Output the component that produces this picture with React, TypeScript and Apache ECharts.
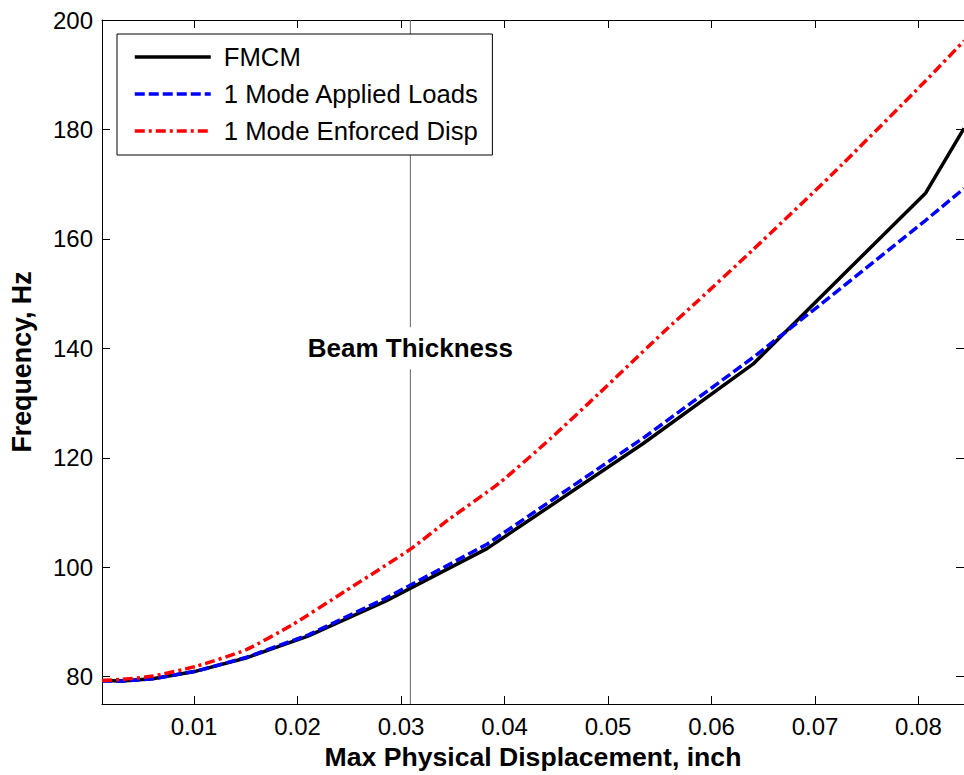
import React, { useEffect, useRef } from "react";
import * as echarts from "echarts";

const xTicks = [0.01, 0.02, 0.03, 0.04, 0.05, 0.06, 0.07, 0.08];
const yTicks = [80, 100, 120, 140, 160, 180, 200];

const fmcm: [number, number][] = [
  [0.0011, 79.3], [0.003, 79.2], [0.006, 79.6], [0.0102, 81.0], [0.015, 83.4],
  [0.021, 87.4], [0.0285, 93.8], [0.0383, 103.4], [0.0534, 122.6], [0.064, 137.1],
  [0.0807, 168.4], [0.0844, 180.2],
];
const appliedLoads: [number, number][] = [
  [0.0011, 79.2], [0.003, 79.2], [0.006, 79.6], [0.0102, 81.0], [0.015, 83.5],
  [0.021, 87.6], [0.0285, 94.3], [0.0383, 104.2], [0.0534, 123.6], [0.064, 138.3],
  [0.071, 148.7], [0.0807, 163.4], [0.0844, 169.2],
];
const enforcedDisp: [number, number][] = [
  [0.0011, 79.3], [0.003, 79.5], [0.006, 80.1], [0.0102, 81.9], [0.015, 84.9],
  [0.0195, 89.5], [0.0245, 95.5], [0.0309, 103.3], [0.0346, 108.7], [0.0395, 115.4],
  [0.0445, 123.6], [0.0491, 131.7], [0.0555, 143.2], [0.0587, 148.7], [0.064, 158.0],
  [0.0716, 171.7], [0.0807, 188.9], [0.0844, 196.2],
];
const beamThickness = 0.0309;
const beamLine: [number, number][] = [[beamThickness, 75], [beamThickness, 200]];
const beamLabelY = 140;

const FONT = "'Liberation Sans', Arial, Helvetica, sans-serif";

export default function App() {
  const ref = useRef<HTMLDivElement>(null);
  useEffect(() => {
    if (!ref.current) return;
    const chart = echarts.init(ref.current, null, { renderer: "svg" });
    const xMin = 0.0011;
    const xMax = 0.0844;
    const yMin = 75;
    const yMax = 200;
    const tickCommon = { inside: true, length: 8, lineStyle: { color: "#000", width: 1 } };
    chart.setOption({
      animation: false,
      backgroundColor: "#fff",
      textStyle: { fontFamily: FONT },
      grid: { left: 102, right: -1, top: 20, bottom: 71, containLabel: false },
      legend: {
        orient: "vertical",
        left: 117,
        top: 34,
        padding: [10, 13, 11, 16],
        itemGap: 11,
        itemWidth: 76,
        itemHeight: 14,
        borderColor: "#000",
        borderWidth: 1,
        backgroundColor: "#fff",
        itemStyle: { opacity: 0 },
        lineStyle: { width: 3.5 },
        textStyle: { fontSize: 25.7, color: "#000", fontFamily: FONT, padding: [0, 0, 0, 8] },
        data: ["FMCM", "1 Mode Applied Loads", "1 Mode Enforced Disp"],
      },
      xAxis: [
        {
          type: "value",
          position: "bottom",
          min: xMin,
          max: xMax,
          name: "Max Physical Displacement, inch",
          nameLocation: "middle",
          nameGap: 39,
          nameTextStyle: { fontSize: 26.6, fontWeight: "bold", color: "#000", fontFamily: FONT },
          axisLine: { show: true, lineStyle: { color: "#000", width: 1 } },
          axisTick: { ...tickCommon, customValues: xTicks },
          axisLabel: {
            customValues: xTicks,
            fontSize: 24,
            color: "#000",
            margin: 10,
            fontFamily: FONT,
            formatter: (v: number) => String(+v.toFixed(2)),
          },
          splitLine: { show: false },
        },
        {
          type: "value",
          position: "top",
          min: xMin,
          max: xMax,
          axisLine: { show: true, lineStyle: { color: "#000", width: 1 } },
          axisTick: { ...tickCommon, customValues: xTicks },
          axisLabel: { show: false, customValues: xTicks },
          splitLine: { show: false },
        },
      ],
      yAxis: [
        {
          type: "value",
          position: "left",
          min: yMin,
          max: yMax,
          name: "Frequency, Hz",
          nameLocation: "middle",
          nameGap: 67,
          nameTextStyle: { fontSize: 26.8, fontWeight: "bold", color: "#000", fontFamily: FONT },
          axisLine: { show: true, lineStyle: { color: "#000", width: 1 } },
          axisTick: { ...tickCommon, customValues: yTicks },
          axisLabel: { customValues: yTicks, fontSize: 24, color: "#000", margin: 9, fontFamily: FONT },
          splitLine: { show: false },
        },
        {
          type: "value",
          position: "right",
          min: yMin,
          max: yMax,
          axisLine: { show: true, lineStyle: { color: "#000", width: 1 } },
          axisTick: { ...tickCommon, customValues: yTicks },
          axisLabel: { show: false, customValues: yTicks },
          splitLine: { show: false },
        },
      ],
      series: [
        {
          name: "beam",
          type: "line",
          data: beamLine,
          symbol: "none",
          showSymbol: false,
          silent: true,
          z: 1,
          lineStyle: { color: "#666", width: 1, type: "solid" },
        },
        {
          name: "FMCM",
          type: "line",
          data: fmcm,
          symbol: "none",
          showSymbol: false,
          z: 3,
          lineStyle: { color: "#000", width: 3.5, type: "solid" },
          itemStyle: { color: "#000" },
        },
        {
          name: "1 Mode Applied Loads",
          type: "line",
          data: appliedLoads,
          symbol: "none",
          showSymbol: false,
          z: 4,
          lineStyle: { color: "#0000ff", width: 3.5, type: [10, 4] },
          itemStyle: { color: "#0000ff" },
        },
        {
          name: "1 Mode Enforced Disp",
          type: "line",
          data: enforcedDisp,
          symbol: "none",
          showSymbol: false,
          smooth: 0.2,
          z: 5,
          lineStyle: { color: "#ff0000", width: 3.5, type: [10, 4, 3, 4] },
          itemStyle: { color: "#ff0000" },
        },
      ],
    });
    const p = chart.convertToPixel({ xAxisIndex: 0, yAxisIndex: 0 }, [beamThickness, beamLabelY]);
    chart.setOption({
      graphic: [
        {
          type: "text",
          x: p[0],
          y: p[1],
          z: 10,
          style: {
            text: "Beam Thickness",
            fontSize: 26,
            fontWeight: "bold",
            fontFamily: FONT,
            fill: "#000",
            align: "center",
            verticalAlign: "middle",
            backgroundColor: "#fff",
            padding: [8, 4],
          },
        },
      ],
    });
    return () => chart.dispose();
  }, []);
  return (
    <div
      ref={ref}
      style={{ position: "fixed", left: 0, top: 0, width: 964, height: 775, background: "#fff" }}
    />
  );
}
